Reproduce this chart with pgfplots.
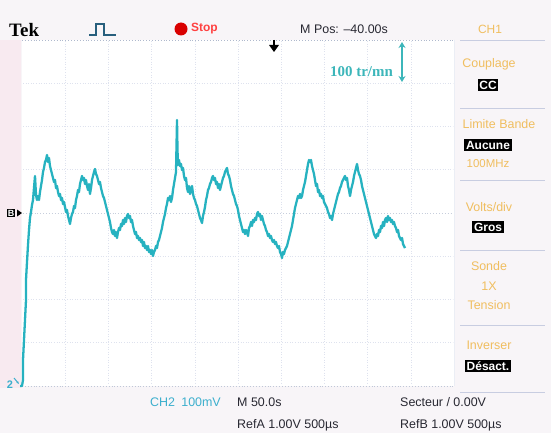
\documentclass[border=0pt]{standalone}
\usepackage{pgfplots}
\pgfplotsset{compat=1.18}
\usepackage{fontspec}
\setmainfont{Liberation Sans}
\newfontfamily\serifb{Liberation Serif}
\usetikzlibrary{arrows.meta}

\definecolor{bgc}{RGB}{248,245,248}
\definecolor{leftc}{RGB}{248,234,240}
\definecolor{tracec}{RGB}{38,178,192}
\definecolor{arrc}{RGB}{60,182,186}
\definecolor{orangec}{RGB}{240,190,95}
\definecolor{gridc}{RGB}{222,226,238}
\definecolor{borderc}{RGB}{175,185,205}
\definecolor{darkc}{RGB}{40,40,50}
\definecolor{ch2c}{RGB}{60,175,205}
\definecolor{sepc}{RGB}{200,205,225}
\definecolor{pulsec}{RGB}{40,95,125}

\newcommand\fs[1]{\fontsize{#1}{#1}\selectfont}

\begin{document}
\begin{tikzpicture}
\begin{axis}[scale only axis, width=551bp, height=433bp,
  xmin=0, xmax=551, ymin=0, ymax=433, y dir=reverse,
  hide axis, clip=false]

% panels
\fill[bgc] (axis cs:0,0) rectangle (axis cs:551,433);
\fill[leftc] (axis cs:0,40) rectangle (axis cs:21,388);
\fill[white] (axis cs:22,40) rectangle (axis cs:454,386);

% graticule
\pgfplotsinvokeforeach{65.2,108.4,151.6,194.8,238,281.2,324.4,367.6,410.8}{
  \draw[gridc, dotted, line width=0.6pt] (axis cs:#1,41) -- (axis cs:#1,385);
}
\pgfplotsinvokeforeach{83.25,126.5,169.75,256.25,299.5,342.75}{
  \draw[gridc, dotted, line width=0.6pt] (axis cs:23,#1) -- (axis cs:453,#1);
}
\draw[borderc!70, dotted, line width=0.9pt] (axis cs:23,213) -- (axis cs:453,213);
\draw[borderc, dotted, line width=0.9pt] (axis cs:22,40) -- (axis cs:454,40);
\draw[borderc!80, dotted, line width=0.9pt] (axis cs:22,386) -- (axis cs:454,386);
\draw[gridc!60, line width=0.5pt] (axis cs:454,40) -- (axis cs:454,386);

% right panel separators
\pgfplotsinvokeforeach{40,108,180,250,325,392}{
  \draw[sepc, line width=0.7pt] (axis cs:460,#1) -- (axis cs:545,#1);
}

% trace
\addplot[tracec, line width=2.3pt, line join=round] coordinates {
(20,386) (22,386) (23,380) (23,360) (24,340) (25,320) (26,300) (26,280) (27,262)
(28,245) (29,230) (30,218) (31,212) (32,205) (33,200) (34,188) (35,176) (36,195)
(37,200) (38,196) (39,200) (40,192) (41,186) (42,180) (43,172) (44,168) (45,162)
(46,160) (47,155) (48,162) (49,158) (50,166) (51,170) (52,174) (53,178) (54,182)
(55,180) (56,188) (57,186) (58,192) (59,196) (60,194) (61,200) (62,198) (63,204)
(64,202) (65,207) (66,212) (67,210) (68,216) (69,220) (70,224) (71,218) (72,214)
(73,212) (74,206) (75,208) (76,200) (77,196) (78,190) (79,192) (80,184) (81,180)
(82,176) (83,180) (84,178) (85,184) (86,180) (87,186) (88,190) (89,184) (90,194)
(91,188) (92,180) (93,176) (94,172) (95,169) (96,174) (97,176) (98,180) (99,184)
(100,182) (101,188) (102,192) (103,196) (104,198) (105,202) (106,206) (107,210)
(108,214) (109,218) (110,222) (111,228) (112,232) (113,234) (114,230) (115,236)
(116,232) (117,238) (118,232) (119,228) (120,230) (121,224) (122,226) (123,220)
(124,224) (125,218) (126,222) (127,216) (128,214) (129,218) (130,216) (131,222)
(132,220) (133,226) (134,230) (135,234) (136,232) (137,238) (138,236) (139,240)
(140,238) (141,242) (142,240) (143,246) (144,242) (145,248) (146,246) (147,250)
(148,246) (149,252) (150,250) (151,254) (152,250) (153,256) (154,252) (155,250)
(156,246) (157,248) (158,242) (159,240) (160,236) (161,232) (162,228) (163,222)
(164,218) (165,214) (166,208) (167,204) (168,198) (169,200) (170,196) (171,202)
(172,198) (173,190) (174,184) (175,178) (176,172) (177,120) (177.5,150) (178,165)
(179,160) (180,166) (181,164) (182,170) (183,168) (184,176) (185,180) (186,178)
(187,188) (188,192) (189,186) (190,194) (191,190) (192,186) (193,194) (194,198)
(195,200) (196,204) (197,206) (198,210) (199,214) (200,218) (201,220) (202,223)
(203,216) (204,212) (205,207) (206,200) (207,196) (208,190) (209,188) (210,184)
(211,182) (212,178) (213,176) (214,180) (215,178) (216,184) (217,182) (218,188)
(219,184) (220,190) (221,186) (222,182) (223,178) (224,176) (225,172) (226,170)
(227,168) (228,174) (229,176) (230,180) (231,186) (232,190) (233,194) (234,196)
(235,200) (236,204) (237,206) (238,210) (239,216) (240,220) (241,224) (242,228)
(243,232) (244,230) (245,234) (246,230) (247,232) (248,236) (249,228) (250,226)
(251,222) (252,226) (253,220) (254,222) (255,218) (256,220) (257,214) (258,212)
(259,216) (260,214) (261,220) (262,216) (263,220) (264,224) (265,226) (266,230)
(267,232) (268,236) (269,234) (270,238) (271,236) (272,240) (273,242) (274,240)
(275,244) (276,242) (277,246) (278,248) (279,246) (280,252) (281,254) (282,258)
(283,252) (284,254) (285,250) (286,248) (287,246) (288,242) (289,238) (290,234)
(291,230) (292,226) (293,220) (294,214) (295,208) (296,204) (297,200) (298,196)
(299,198) (300,194) (301,198) (302,196) (303,190) (304,186) (305,182) (306,176)
(307,170) (308,164) (309,160) (310,162) (311,160) (312,166) (313,170) (314,174)
(315,180) (316,186) (317,184) (318,192) (319,190) (320,196) (321,194) (322,198)
(323,196) (324,202) (325,204) (326,206) (327,208) (328,212) (329,214) (330,218)
(331,216) (332,220) (333,214) (334,210) (335,206) (336,202) (337,198) (338,194)
(339,192) (340,188) (341,186) (342,182) (343,180) (344,178) (345,176) (346,180)
(347,178) (348,186) (349,190) (350,196) (351,190) (352,186) (353,182) (354,176)
(355,172) (356,168) (357,164) (358,170) (359,174) (360,176) (361,180) (362,186)
(363,190) (364,194) (365,198) (366,202) (367,206) (368,210) (369,214) (370,218)
(371,222) (372,226) (373,230) (374,234) (375,236) (376,238) (377,234) (378,236)
(379,230) (380,232) (381,226) (382,228) (383,222) (384,226) (385,220) (386,218)
(387,222) (388,216) (389,220) (390,218) (391,222) (392,220) (393,224) (394,222)
(395,226) (396,228) (397,232) (398,230) (399,236) (400,238) (401,240) (402,238)
(403,244) (404,246) (405,248)
};

% top bar
\node[anchor=west, inner sep=0pt] at (axis cs:9,30) {\serifb\bfseries\fs{19}Tek};
\draw[pulsec, line width=1.3pt] (axis cs:89,35) -- (axis cs:96,35) -- (axis cs:96,24)
  -- (axis cs:104,24) -- (axis cs:104,35) -- (axis cs:116,35);
\fill[red!85!black] (axis cs:181,29) circle[radius=6.5bp];
\node[anchor=west, inner sep=0pt, text=red!75] at (axis cs:191,29) {\bfseries\fs{12}Stop};
\node[anchor=west, inner sep=0pt, text=darkc] at (axis cs:300,29) {\fs{12.5}M Pos: –40.00s};
\node[inner sep=0pt, text=orangec] at (axis cs:490,29) {\fs{12}CH1};

% trigger position marker
\fill[black] (axis cs:269,45) -- (axis cs:279,45) -- (axis cs:274,52) -- cycle;
\draw[black, line width=1.2pt] (axis cs:274,40) -- (axis cs:274,46);

% speed scale annotation
\draw[arrc, line width=1.6pt, {Stealth[length=6bp,width=7bp]}-{Stealth[length=6bp,width=7bp]}]
  (axis cs:402,42) -- (axis cs:402,82);
\node[anchor=east, inner sep=0pt, text=arrc] at (axis cs:393,72) {\serifb\bfseries\fs{15}100 tr/mn};

% left markers
\node[fill=black, text=white, inner sep=1.2pt] at (axis cs:11,213) {\bfseries\fs{9}B};
\fill[black] (axis cs:17,209.5) -- (axis cs:22,213) -- (axis cs:17,216.5) -- cycle;
\node[text=ch2c, inner sep=0pt] at (axis cs:10,385) {\bfseries\fs{11}2};
\draw[ch2c, line width=1pt, -{Stealth[length=3bp]}] (axis cs:14,378) -- (axis cs:19,384);

% right panel
\node[text=orangec] at (axis cs:489,64) {\fs{12.5}Couplage};
\node[fill=black, text=white, inner sep=1.8pt] at (axis cs:488,85) {\bfseries\fs{12}CC};
\node[text=orangec] at (axis cs:499,124) {\fs{12.5}Limite Bande};
\node[fill=black, text=white, inner sep=1.8pt] at (axis cs:488,145) {\bfseries\fs{12}Aucune};
\node[text=orangec] at (axis cs:488,164) {\fs{11.5}100MHz};
\node[text=orangec] at (axis cs:489,207) {\fs{12.5}Volts/div};
\node[fill=black, text=white, inner sep=1.8pt] at (axis cs:488,227) {\bfseries\fs{12}Gros};
\node[text=orangec] at (axis cs:489,266) {\fs{12.5}Sonde};
\node[text=orangec] at (axis cs:489,286) {\fs{12.5}1X};
\node[text=orangec] at (axis cs:489,305) {\fs{12.5}Tension};
\node[text=orangec] at (axis cs:489,345) {\fs{12.5}Inverser};
\node[fill=black, text=white, inner sep=1.8pt] at (axis cs:488,366) {\bfseries\fs{12}Désact.};

% bottom bar
\node[anchor=west, inner sep=0pt, text=ch2c] at (axis cs:150,402) {\fs{12.5}CH2\enspace 100mV};
\node[anchor=west, inner sep=0pt, text=darkc] at (axis cs:237,402) {\fs{12.5}M 50.0s};
\node[anchor=west, inner sep=0pt, text=darkc] at (axis cs:400,402) {\fs{12.5}Secteur / 0.00V};
\node[anchor=west, inner sep=0pt, text=darkc] at (axis cs:237,425) {\fs{12.5}RefA 1.00V 500µs};
\node[anchor=west, inner sep=0pt, text=darkc] at (axis cs:400,425) {\fs{12.5}RefB 1.00V 500µs};
\end{axis}
\end{tikzpicture}
\end{document}
